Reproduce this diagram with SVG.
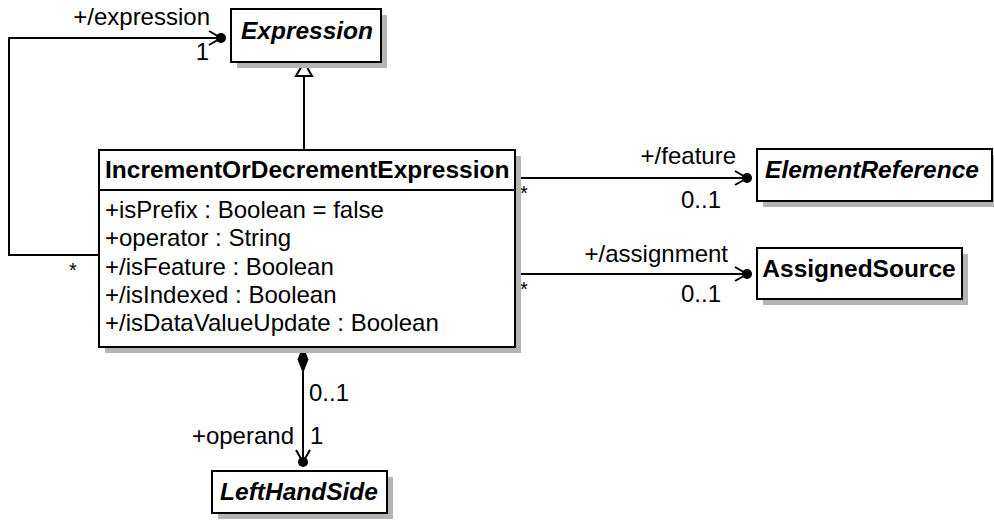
<svg xmlns="http://www.w3.org/2000/svg" width="994" height="527" viewBox="0 0 994 527">
<style>
.box{fill:#fff;stroke:#000;stroke-width:2}
.sh{fill:#b4b4b4}
.t{font-family:"Liberation Sans",Arial,sans-serif;font-size:24px;fill:#000}
.b{font-weight:bold;font-size:24.5px}
.i{font-style:italic}
.s{font-size:20px}
.ln{fill:none;stroke:#000;stroke-width:2}
</style>
<defs>
<marker id="nav" viewBox="0 0 20 20" refX="14" refY="10" markerWidth="20" markerHeight="20" markerUnits="userSpaceOnUse" orient="auto">
<path d="M2,3 L14,10 L2,17" fill="none" stroke="#000" stroke-width="2"/>
<circle cx="14" cy="10" r="5" fill="#000"/>
</marker>
</defs>
<rect width="994" height="527" fill="#fff"/>
<g id="connectors">
<polyline class="ln" points="99,255 9,255 9,38 221,38" marker-end="url(#nav)"/>
<line class="ln" x1="304" y1="150" x2="304" y2="76"/>
<polygon points="304,62 296,76 312,76" fill="#fff" stroke="#000" stroke-width="2"/>
<line class="ln" x1="515" y1="178" x2="747" y2="178" marker-end="url(#nav)"/>
<line class="ln" x1="515" y1="274" x2="747" y2="274" marker-end="url(#nav)"/>
<line class="ln" x1="303" y1="372" x2="303" y2="462" marker-end="url(#nav)"/>
<polygon points="303,347 298,359.5 303,372 308,359.5" fill="#000" stroke="#000" stroke-width="1"/>
<text class="t" x="210" y="25" text-anchor="end">+/expression</text>
<text class="t" x="209" y="60" text-anchor="end">1</text>
<text class="t s" x="69" y="277">*</text>
<text class="t" x="736" y="164" text-anchor="end">+/feature</text>
<text class="t" x="721" y="208" text-anchor="end">0..1</text>
<text class="t s" x="520" y="200">*</text>
<text class="t" x="728" y="262" text-anchor="end">+/assignment</text>
<text class="t" x="721" y="302" text-anchor="end">0..1</text>
<text class="t s" x="520" y="296">*</text>
<text class="t" x="309" y="401">0..1</text>
<text class="t" x="294" y="444" text-anchor="end">+operand</text>
<text class="t" x="310" y="444">1</text>
</g>
<g id="Expression">
<rect class="sh" x="237" y="15" width="150" height="53"/>
<rect class="box" x="231" y="9" width="150" height="53"/>
<text class="t b i" x="307" y="39" text-anchor="middle">Expression</text>
</g>
<g id="IncrementOrDecrementExpression">
<rect class="sh" x="105" y="156" width="416" height="197"/>
<rect class="box" x="99" y="150" width="416" height="197"/>
<line class="ln" x1="99" y1="190" x2="515" y2="190"/>
<text class="t b" x="105" y="178">IncrementOrDecrementExpression</text>
<text class="t" x="105" y="218">+isPrefix : Boolean = false</text>
<text class="t" x="105" y="246">+operator : String</text>
<text class="t" x="105" y="275">+/isFeature : Boolean</text>
<text class="t" x="105" y="303">+/isIndexed : Boolean</text>
<text class="t" x="105" y="331">+/isDataValueUpdate : Boolean</text>
</g>
<g id="ElementReference">
<rect class="sh" x="763" y="155" width="236" height="52"/>
<rect class="box" x="757" y="149" width="235" height="52"/>
<text class="t b i" x="872" y="178" text-anchor="middle">ElementReference</text>
</g>
<g id="AssignedSource">
<rect class="sh" x="763" y="254" width="205" height="51"/>
<rect class="box" x="757" y="248" width="205" height="51"/>
<text class="t b" x="859" y="277" text-anchor="middle">AssignedSource</text>
</g>
<g id="LeftHandSide">
<rect class="sh" x="218" y="477" width="175" height="42"/>
<rect class="box" x="212" y="471" width="175" height="42"/>
<text class="t b i" x="299" y="500" text-anchor="middle">LeftHandSide</text>
</g>
</svg>
